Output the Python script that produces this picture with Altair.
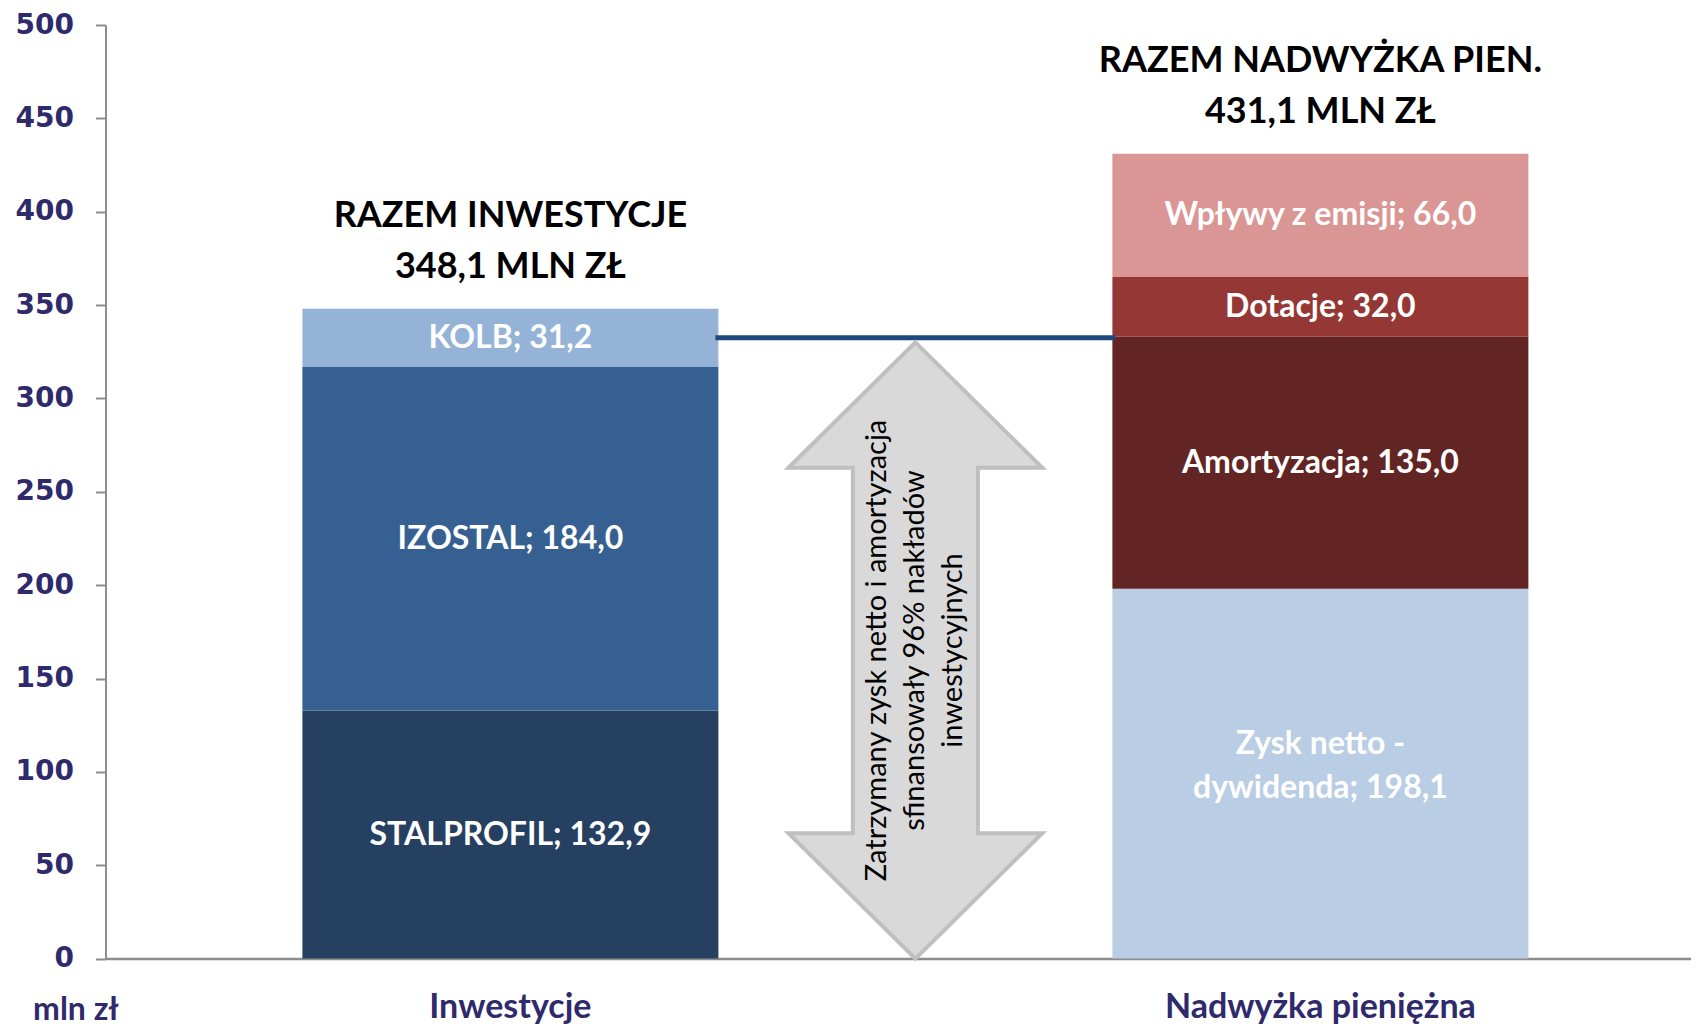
import altair as alt
import pandas as pd

# ---- data ----
categories = ["Inwestycje", "Nadwyżka pieniężna"]
mid_cat = " "  # empty slot between the two bars (holds the arrow)
seg_category = ["Inwestycje", "Inwestycje", "Inwestycje",
                "Nadwyżka pieniężna", "Nadwyżka pieniężna", "Nadwyżka pieniężna", "Nadwyżka pieniężna"]
seg_names = ["STALPROFIL", "IZOSTAL", "KOLB", "Zysk netto - dywidenda", "Amortyzacja", "Dotacje", "Wpływy z emisji"]
seg_labels = ["STALPROFIL; 132,9", "IZOSTAL; 184,0", "KOLB; 31,2", "Zysk netto -\ndywidenda; 198,1",
              "Amortyzacja; 135,0", "Dotacje; 32,0", "Wpływy z emisji; 66,0"]
seg_values = [132.9, 184.0, 31.2, 198.1, 135.0, 32.0, 66.0]
seg_colors = ["#254061", "#376092", "#95B3D7", "#B9CDE5", "#632523", "#953735", "#D99694"]
totals = [348.1, 431.1]
total_titles = ["RAZEM INWESTYCJE\n348,1 MLN ZŁ", "RAZEM NADWYŻKA PIEN.\n431,1 MLN ZŁ"]
link_value = 332.5
arrow_top = 330.0
arrow_text = "Zatrzymany zysk netto i amortyzacja\nsfinansowały  96% nakładów\ninwestycyjnych"

# ---- layout ----
W, H = 1585, 933.6
Y_MAX = 500
px_per_unit = H / Y_MAX
SEG_LH = 44
ARROW_LH = 38
TITLE_LH = 51

rows = []
cum = {}
for c, n, l, v, col in zip(seg_category, seg_names, seg_labels, seg_values, seg_colors):
    s = cum.get(c, 0.0)
    e = s + v
    cum[c] = e
    rows.append(dict(cat=c, name=n, label=l, start=s, end=e, mid=(s + e) / 2, color=col))
seg_df = pd.DataFrame(rows)
tot_df = pd.DataFrame(dict(cat=categories, total=totals, title=total_titles))
mid_df = pd.DataFrame(dict(cat=[mid_cat], link=[link_value], arrow_mid=[arrow_top / 2], text=[arrow_text]))

xscale = alt.Scale(domain=[categories[0], mid_cat, categories[1]], paddingInner=0,
                   paddingOuter=0.4568, align=0.547)
yscale = alt.Scale(domain=[0, Y_MAX], nice=False)

xaxis = alt.Axis(title=None, labelAngle=0, ticks=False, labelPadding=32, labelLimit=0,
                 labelFont="Lato", labelFontWeight="bold", labelFontSize=34, labelColor="#2E2A6B",
                 domainColor="#8C8C8C", domainWidth=2.5)
yaxis = alt.Axis(values=list(range(0, 501, 50)), grid=False,
                 labelFont="DejaVu Sans", labelFontWeight="bold", labelFontSize=28, labelColor="#2E2A6B",
                 labelPadding=22, tickSize=10, tickWidth=2, tickColor="#8C8C8C",
                 domainColor="#8C8C8C", domainWidth=2,
                 title="mln zł", titleAngle=0, titleX=-30, titleY=984, titleAlign="center",
                 titleBaseline="middle", titleFont="Lato", titleFontWeight="bold", titleFontSize=32,
                 titleColor="#2E2A6B")

bars = alt.Chart(seg_df).mark_bar(width=416).encode(
    x=alt.X("cat:N", scale=xscale, axis=xaxis),
    y=alt.Y("start:Q", scale=yscale, axis=yaxis),
    y2="end:Q",
    color=alt.Color("color:N", scale=None),
)

link = alt.Chart(mid_df).mark_tick(size=400, thickness=5, color="#1F497D", opacity=1,
                                   orient="horizontal").encode(
    x=alt.X("cat:N", scale=xscale),
    y=alt.Y("link:Q", scale=yscale),
)

arrow_h = arrow_top * px_per_unit
arrow_path = ("M0,-1 L0.412,-0.593 L0.203,-0.593 L0.203,0.593 L0.412,0.593 L0,1 "
              "L-0.412,0.593 L-0.203,0.593 L-0.203,-0.593 L-0.412,-0.593 Z")
arrow = alt.Chart(mid_df).mark_point(shape=arrow_path, size=arrow_h ** 2, filled=True,
                                     fill="#D9D9D9", stroke="#BFBFBF", strokeWidth=4,
                                     opacity=1, fillOpacity=1).encode(
    x=alt.X("cat:N", scale=xscale),
    y=alt.Y("arrow_mid:Q", scale=yscale),
)

arrow_label = alt.Chart(mid_df).mark_text(angle=270, lineBreak="\n", font="Lato", fontSize=29,
                                          lineHeight=ARROW_LH, color="#000000", align="center",
                                          baseline="middle", dy=-ARROW_LH).encode(
    x=alt.X("cat:N", scale=xscale),
    y=alt.Y("arrow_mid:Q", scale=yscale),
    text="text:N",
)

seg_text_1 = alt.Chart(seg_df).transform_filter(
    "indexof(datum.label, '\\n') < 0"
).mark_text(font="Lato", fontWeight="bold", fontSize=32, color="white", align="center",
            baseline="middle").encode(
    x=alt.X("cat:N", scale=xscale),
    y=alt.Y("mid:Q", scale=yscale),
    text="label:N",
)

seg_text_2 = alt.Chart(seg_df).transform_filter(
    "indexof(datum.label, '\\n') >= 0"
).mark_text(lineBreak="\n", font="Lato", fontWeight="bold", fontSize=32, lineHeight=SEG_LH,
            color="white", align="center", baseline="middle", dy=-30).encode(
    x=alt.X("cat:N", scale=xscale),
    y=alt.Y("mid:Q", scale=yscale),
    text="label:N",
)

tot_text = alt.Chart(tot_df).mark_text(lineBreak="\n", font="Lato", fontWeight="bold", fontSize=36,
                                       lineHeight=TITLE_LH, color="#000000", align="center",
                                       baseline="middle", dy=-93).encode(
    x=alt.X("cat:N", scale=xscale),
    y=alt.Y("total:Q", scale=yscale),
    text="title:N",
)

chart = alt.layer(bars, link, arrow, arrow_label, seg_text_1, seg_text_2, tot_text).properties(
    width=W, height=H,
    autosize=alt.AutoSizeParams(type="none"),
    padding={"left": 97.5, "top": 17, "right": 0, "bottom": 67.4},
    background="white",
).configure_view(stroke=None)

chart.save("out.html", embed_options={"renderer": "svg", "actions": False})
